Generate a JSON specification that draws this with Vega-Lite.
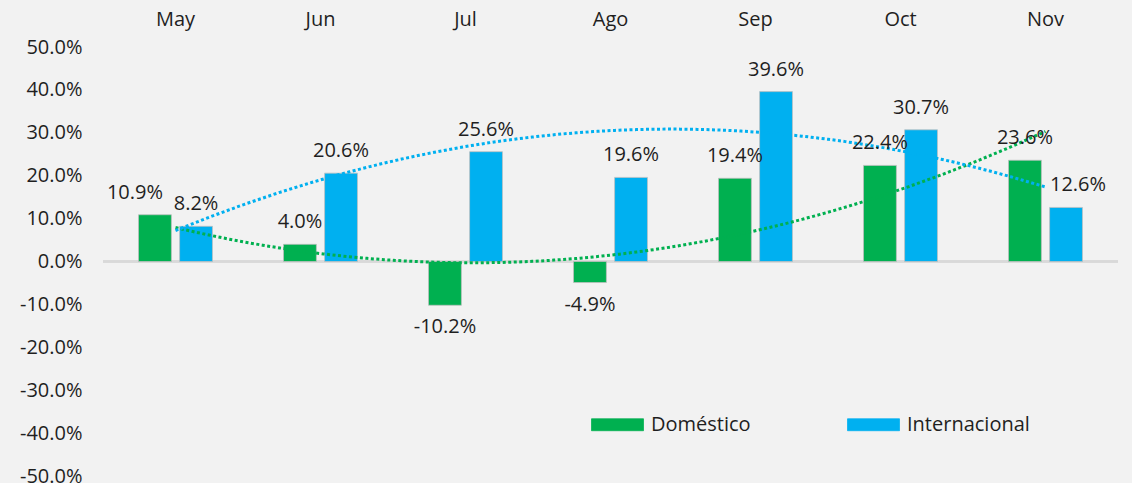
{
  "$schema": "https://vega.github.io/schema/vega-lite/v6.json",
  "width": 1015,
  "height": 429,
  "autosize": {"type": "none"},
  "padding": {"left": 103, "top": 47, "right": 14, "bottom": 7},
  "background": "#f2f2f2",
  "config": {
    "font": "Open Sans",
    "view": {"stroke": null},
    "locale": {"number": {"decimal": ".", "thousands": ",", "grouping": [3], "currency": ["$", ""], "minus": "-"}}
  },
  "data": {
    "values": [
      {"month": "May", "m": 1, "serie": "Doméstico", "v": 0.109},
      {"month": "May", "m": 1, "serie": "Internacional", "v": 0.082},
      {"month": "Jun", "m": 2, "serie": "Doméstico", "v": 0.040},
      {"month": "Jun", "m": 2, "serie": "Internacional", "v": 0.206},
      {"month": "Jul", "m": 3, "serie": "Doméstico", "v": -0.102},
      {"month": "Jul", "m": 3, "serie": "Internacional", "v": 0.256},
      {"month": "Ago", "m": 4, "serie": "Doméstico", "v": -0.049},
      {"month": "Ago", "m": 4, "serie": "Internacional", "v": 0.196},
      {"month": "Sep", "m": 5, "serie": "Doméstico", "v": 0.194},
      {"month": "Sep", "m": 5, "serie": "Internacional", "v": 0.396},
      {"month": "Oct", "m": 6, "serie": "Doméstico", "v": 0.224},
      {"month": "Oct", "m": 6, "serie": "Internacional", "v": 0.307},
      {"month": "Nov", "m": 7, "serie": "Doméstico", "v": 0.236},
      {"month": "Nov", "m": 7, "serie": "Internacional", "v": 0.126}
    ]
  },
  "layer": [
    {
      "layer": [
        {
          "mark": {"type": "rule", "color": "#d9d9d9", "strokeWidth": 2},
          "encoding": {"y": {"datum": 0, "type": "quantitative"}}
        },
        {
          "mark": {"type": "bar", "stroke": "#bfbfbf", "strokeWidth": 0.75},
          "encoding": {
            "x": {
              "field": "month", "type": "nominal",
              "sort": ["May", "Jun", "Jul", "Ago", "Sep", "Oct", "Nov"],
              "scale": {"paddingInner": 0.49, "paddingOuter": 0.245},
              "axis": {"orient": "top", "title": null, "labelAngle": 0, "domain": false, "ticks": false, "labelFontSize": 20, "labelColor": "#1f1f1f", "labelPadding": 18}
            },
            "xOffset": {"field": "serie", "type": "nominal", "sort": ["Doméstico", "Internacional"], "scale": {"paddingInner": 0.2}},
            "y": {
              "field": "v", "type": "quantitative",
              "scale": {"domain": [-0.5, 0.5], "nice": false},
              "axis": {"orient": "left", "title": null, "values": [-0.5, -0.4, -0.3, -0.2, -0.1, 0, 0.1, 0.2, 0.3, 0.4, 0.5], "format": ".1%", "domain": false, "ticks": false, "grid": false, "labelFontSize": 20, "labelColor": "#1f1f1f", "labelPadding": 21}
            },
            "color": {
              "field": "serie", "type": "nominal",
              "scale": {"domain": ["Doméstico", "Internacional"], "range": ["#00B050", "#00B0F0"]},
              "legend": {"orient": "none", "legendX": 488, "legendY": 351, "direction": "horizontal", "title": null, "symbolType": "M-1,-0.23H1V0.23H-1Z", "symbolSize": 2704, "labelFontSize": 20, "labelColor": "#1f1f1f", "labelOffset": 7, "columnPadding": 95, "symbolStrokeWidth": 0.75, "symbolStrokeColor": "#bfbfbf"}
            }
          }
        }
      ]
    },
    {
      "transform": [
        {"regression": "v", "on": "m", "groupby": ["serie"], "method": "poly", "order": 2, "extent": [1, 7]}
      ],
      "mark": {"type": "line", "strokeDash": [3, 2.5], "strokeWidth": 3},
      "encoding": {
        "x": {"field": "m", "type": "quantitative", "scale": {"domain": [0.5, 7.5], "nice": false, "zero": false}, "axis": null},
        "y": {"field": "v", "type": "quantitative"},
        "stroke": {"field": "serie", "type": "nominal", "scale": {"domain": ["Doméstico", "Internacional"], "range": ["#00B050", "#00B0F0"]}, "legend": null}
      }
    },
    {
      "encoding": {
        "x": {
          "field": "month", "type": "nominal",
          "sort": ["May", "Jun", "Jul", "Ago", "Sep", "Oct", "Nov"],
          "scale": {"paddingInner": 0.49, "paddingOuter": 0.245},
          "axis": null
        },
        "xOffset": {"field": "serie", "type": "nominal", "sort": ["Doméstico", "Internacional"], "scale": {"paddingInner": 0.2}},
        "y": {"field": "v", "type": "quantitative"},
        "text": {"field": "v", "type": "quantitative", "format": ".1%"}
      },
      "layer": [
        {
          "transform": [{"filter": "datum.v >= 0 && datum.v != 0.109 && datum.v != 0.126"}],
          "mark": {"type": "text", "dy": -22, "baseline": "middle", "fontSize": 20, "color": "#1f1f1f"}
        },
        {
          "transform": [{"filter": "datum.v < 0"}],
          "mark": {"type": "text", "dy": 22, "baseline": "middle", "fontSize": 20, "color": "#1f1f1f"}
        },
        {
          "transform": [{"filter": "datum.v == 0.109"}],
          "mark": {"type": "text", "dy": -22, "dx": -20, "baseline": "middle", "fontSize": 20, "color": "#1f1f1f"}
        },
        {
          "transform": [{"filter": "datum.v == 0.126"}],
          "mark": {"type": "text", "dy": -22, "dx": 12, "baseline": "middle", "fontSize": 20, "color": "#1f1f1f"}
        }
      ]
    }
  ],
  "resolve": {"scale": {"x": "independent"}}
}
